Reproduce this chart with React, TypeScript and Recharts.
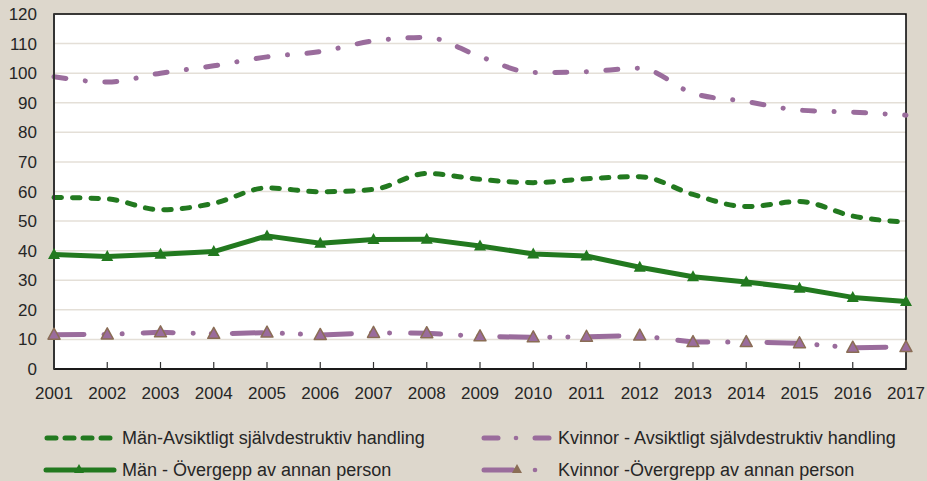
import React from "react";
import { LineChart, Line, XAxis, YAxis, CartesianGrid, ReferenceArea } from "recharts";

const years = ["2001","2002","2003","2004","2005","2006","2007","2008","2009","2010","2011","2012","2013","2014","2015","2016","2017"];
const manAvsiktligt = [58, 57.5, 53.8, 56, 61.2, 59.9, 60.7, 66.1, 64.1, 63, 64.3, 65, 59, 54.9, 56.6, 51.7, 49.6];
const manOvergrepp = [38.7, 38, 38.8, 39.7, 45, 42.5, 43.8, 43.9, 41.6, 38.9, 38.2, 34.4, 31.2, 29.4, 27.3, 24.2, 22.8];
const kvinnorAvsiktligt = [98.8, 97, 100, 102.5, 105.5, 107.3, 110.9, 112.1, 105.6, 100.2, 100.5, 101.7, 93.2, 90.4, 87.5, 86.8, 85.8];
const kvinnorOvergrepp = [11.6, 11.7, 12.4, 11.9, 12.3, 11.5, 12.2, 12.1, 11.05, 10.7, 10.9, 11.3, 9.1, 9.1, 8.7, 7.2, 7.4];
const yTicks = [0, 10, 20, 30, 40, 50, 60, 70, 80, 90, 100, 110, 120];
const labels = [
  "Män-Avsiktligt självdestruktiv handling",
  "Män - Övergepp av annan person",
  "Kvinnor - Avsiktligt självdestruktiv handling",
  "Kvinnor -Övergrepp av annan person",
];

const data = years.map((y, i) => ({
  year: y,
  manAvs: manAvsiktligt[i],
  manOver: manOvergrepp[i],
  kvAvs: kvinnorAvsiktligt[i],
  kvOver: kvinnorOvergrepp[i],
}));

const BG = "#DDD7CC";
const GREEN = "#22791F";
const PURPLE = "#9A6C9C";
const BROWN = "#8A6D55";
const GRID = "#E4DFD7";
const TEXT = "#262626";
const FONT = "'Liberation Sans', Arial, sans-serif";

const GreenTri = (props: any) => {
  const { cx, cy } = props;
  if (cx == null || cy == null) return null;
  return <polygon points={`${cx},${cy - 6.5} ${cx - 6},${cy + 4.5} ${cx + 6},${cy + 4.5}`} fill={GREEN} />;
};

const PurpleTri = (props: any) => {
  const { cx, cy } = props;
  if (cx == null || cy == null) return null;
  return (
    <polygon
      points={`${cx},${cy - 6.5} ${cx - 6},${cy + 4.5} ${cx + 6},${cy + 4.5}`}
      fill={PURPLE}
      stroke={BROWN}
      strokeWidth={1.5}
      strokeLinejoin="round"
    />
  );
};

const XTick = (props: any) => {
  const { x, y, payload } = props;
  return (
    <g>
      <line x1={x} y1={y} x2={x} y2={y - 7} stroke="#333" strokeWidth={1.2} />
      <text x={x} y={y + 30} textAnchor="middle" fontFamily={FONT} fontSize={17} fill={TEXT}>
        {payload.value}
      </text>
    </g>
  );
};

const YTick = (props: any) => {
  const { y, payload } = props;
  return (
    <text x={37} y={y + 6} textAnchor="end" fontFamily={FONT} fontSize={17} fill={TEXT}>
      {payload.value}
    </text>
  );
};

const Legend = () => (
  <svg width={927} height={70} style={{ position: "absolute", left: 0, top: 411 }}>
    <line x1={47} y1={27} x2={111} y2={27} stroke={GREEN} strokeWidth={5} strokeDasharray="9 9" strokeLinecap="round" />
    <text x={122} y={33} fontFamily={FONT} fontSize={18} fill={TEXT}>{labels[0]}</text>
    <line x1={46} y1={59} x2={114} y2={59} stroke={GREEN} strokeWidth={5} strokeLinecap="round" />
    <polygon points={`79,53 74,62 84,62`} fill={GREEN} />
    <text x={122} y={65} fontFamily={FONT} fontSize={18} fill={TEXT}>{labels[1]}</text>
    <line x1={484} y1={27} x2={498} y2={27} stroke={PURPLE} strokeWidth={5} strokeLinecap="round" />
    <circle cx={516} cy={27} r={2.3} fill={PURPLE} />
    <line x1={535} y1={27} x2={549} y2={27} stroke={PURPLE} strokeWidth={5} strokeLinecap="round" />
    <text x={558} y={33} fontFamily={FONT} fontSize={18} fill={TEXT}>{labels[2]}</text>
    <line x1={484} y1={59} x2={513} y2={59} stroke={PURPLE} strokeWidth={5} strokeLinecap="round" />
    <polygon points={`517,53 512,62 522,62`} fill={BROWN} />
    <circle cx={535} cy={59} r={2.3} fill={PURPLE} />
    <text x={558} y={65} fontFamily={FONT} fontSize={18} fill={TEXT}>{labels[3]}</text>
  </svg>
);

export default function App() {
  return (
    <div style={{ position: "absolute", left: 0, top: 0, width: 927, height: 481, background: BG, overflow: "hidden" }}>
      <LineChart width={927} height={481} data={data} margin={{ top: 14, right: 21, left: 0, bottom: 82 }}>
        <CartesianGrid horizontal vertical={false} stroke={GRID} strokeWidth={1.5} fill="#FFFFFF" fillOpacity={1} />
        <XAxis
          dataKey="year"
          height={30}
          tickLine={false}
          tickSize={0}
          tickMargin={0}
          axisLine={{ stroke: "#111", strokeWidth: 1.5 }}
          tick={<XTick />}
          interval={0}
        />
        <YAxis
          width={54}
          domain={[0, 120]}
          ticks={yTicks}
          tickLine={false}
          tickSize={0}
          axisLine={{ stroke: "#333", strokeWidth: 2 }}
          tick={<YTick />}
          interval={0}
        />
        <ReferenceArea x1="2001" x2="2017" y1={0} y2={120} fill="none" stroke="#000" strokeWidth={1.5} ifOverflow="visible" />
        <Line
          dataKey="kvAvs"
          type="monotone"
          stroke={PURPLE}
          strokeWidth={5}
          strokeDasharray="12 19.5 0.1 19.5"
          strokeLinecap="round"
          dot={false}
          activeDot={false}
          isAnimationActive={false}
        />
        <Line
          dataKey="manAvs"
          type="monotone"
          stroke={GREEN}
          strokeWidth={5}
          strokeDasharray="7.5 11"
          strokeLinecap="round"
          dot={false}
          activeDot={false}
          isAnimationActive={false}
        />
        <Line
          dataKey="manOver"
          type="linear"
          stroke={GREEN}
          strokeWidth={5}
          strokeLinejoin="round"
          dot={<GreenTri />}
          activeDot={false}
          isAnimationActive={false}
        />
        <Line
          dataKey="kvOver"
          type="linear"
          stroke={PURPLE}
          strokeWidth={5}
          strokeDasharray="30 20 0.1 18 0.1 21"
          strokeLinecap="round"
          dot={<PurpleTri />}
          activeDot={false}
          isAnimationActive={false}
        />
      </LineChart>
      <Legend />
    </div>
  );
}
